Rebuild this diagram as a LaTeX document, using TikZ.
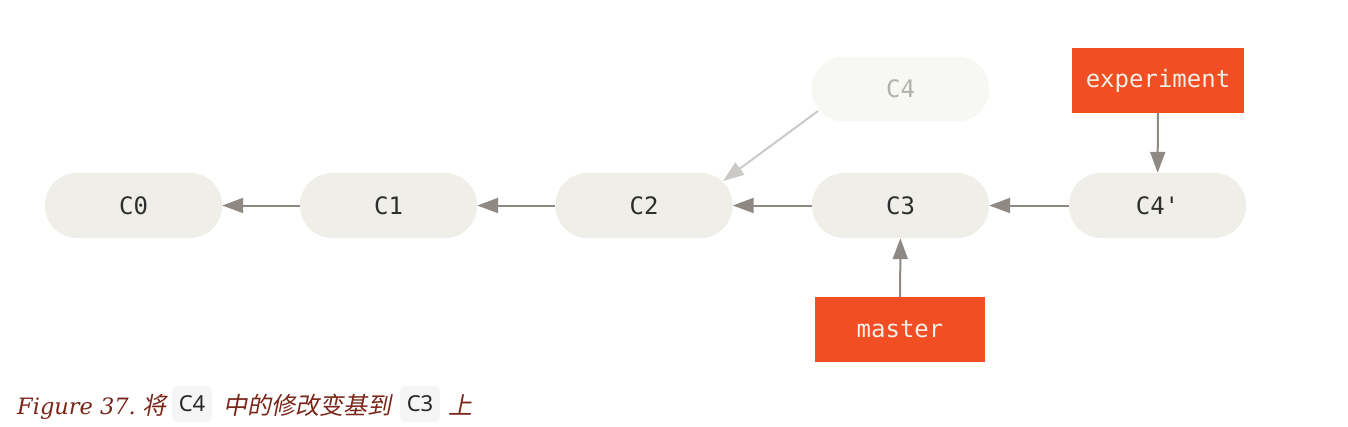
\documentclass[tikz,border=0pt]{standalone}
\usepackage{fontspec}
\usetikzlibrary{arrows.meta}
\newfontfamily\nodemono{DejaVu Sans Mono}
\newfontfamily\capserif{DejaVu Serif}
\newfontfamily\capcjk[FakeSlant=0.2]{Noto Sans CJK SC}
\newfontfamily\capsans{Noto Sans}
\definecolor{nodefill}{HTML}{EFEEE8}
\definecolor{ghostfill}{HTML}{F7F7F3}
\definecolor{ghosttext}{HTML}{B3B1AB}
\definecolor{nodetext}{HTML}{2E2E2E}
\definecolor{arrowcol}{HTML}{8E8983}
\definecolor{ghostarrow}{HTML}{CCCAC6}
\definecolor{branchfill}{HTML}{F24E23}
\definecolor{branchtext}{HTML}{F5EEE6}
\definecolor{captext}{HTML}{7A2518}
\definecolor{codefill}{HTML}{F5F5F5}
\begin{document}
\begin{tikzpicture}[x=1pt,y=-1pt,
  commit/.style={rectangle, rounded corners=32pt, minimum width=177pt, minimum height=65pt,
    inner sep=0pt, fill=nodefill, text=nodetext, font=\nodemono\fontsize{24}{28}\selectfont},
  ghost/.style={commit, fill=ghostfill, text=ghosttext},
  branch/.style={rectangle, minimum height=65pt, inner sep=0pt, fill=branchfill, text=branchtext,
    font=\nodemono\fontsize{24}{28}\selectfont},
  link/.style={draw=arrowcol, line width=2pt, -{Triangle[length=21pt,width=15pt]}},
  ghostlink/.style={draw=ghostarrow, line width=2pt, -{Triangle[length=21pt,width=15pt]}},
  captxt/.style={anchor=base west, inner sep=0pt, text=captext},
  codebox/.style={rectangle, rounded corners=4pt, fill=codefill, minimum width=40pt, minimum height=36pt,
    inner sep=0pt, text=black!85, font=\capsans\fontsize{22}{25}\selectfont}
]
\useasboundingbox (0,0) rectangle (1348,426);
\node[commit] (c0) at (133.5,205.5) {C0};
\node[commit] (c1) at (388.5,205.5) {C1};
\node[commit] (c2) at (644,205.5) {C2};
\node[commit] (c3) at (900.5,205.5) {C3};
\node[commit] (c4p) at (1157.5,205.5) {C4'};
\node[ghost] (c4) at (900.5,89) {C4};
\node[branch, minimum width=172pt] (exp) at (1158,80.5) {experiment};
\node[branch, minimum width=170pt] (mas) at (900,329.5) {master};
\draw[link] (c1) -- (c0);
\draw[link] (c2) -- (c1);
\draw[link] (c3) -- (c2);
\draw[link] (c4p) -- (c3);
\draw[link] (exp) -- (c4p);
\draw[link] (mas) -- (c3);
\coordinate (g1) at (818,111);
\coordinate (g2) at (723,181);
\draw[ghostlink] (g1) -- (g2);
% caption
\node[captxt, font=\capserif\itshape\fontsize{22.5}{27}\selectfont] (fig) at (17,414) {Figure 37.};
\node[captxt, font=\capcjk\fontsize{24}{28}\selectfont] (k1) at (142,414) {将};
\node[codebox] (cc4) at (192,404) {C4};
\node[captxt, font=\capcjk\fontsize{24}{28}\selectfont] (k2) at (223,414) {中的修改变基到};
\node[codebox] (cc3) at (420,404) {C3};
\node[captxt, font=\capcjk\fontsize{24}{28}\selectfont] (k3) at (448,414) {上};
\end{tikzpicture}
\end{document}
